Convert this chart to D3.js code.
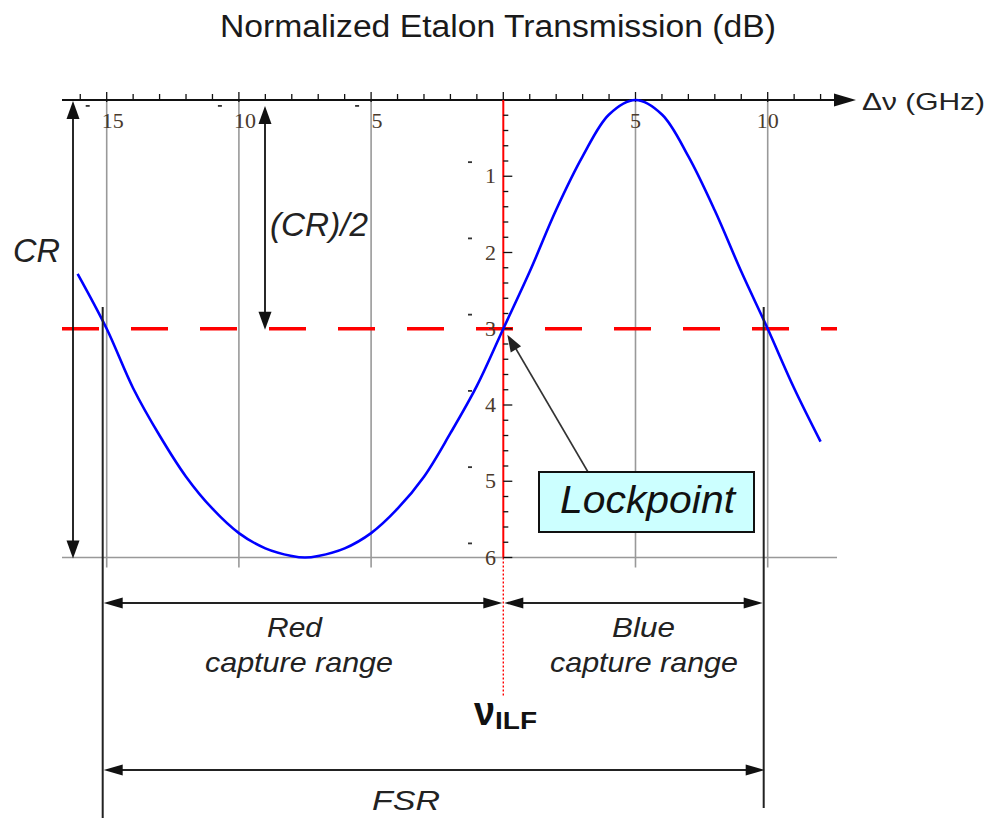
<!DOCTYPE html>
<html>
<head>
<meta charset="utf-8">
<script src="https://cdn.jsdelivr.net/npm/d3@7"></script>
<style>
  html, body { margin: 0; padding: 0; background: #fff; }
  svg { display: block; }
</style>
</head>
<body>
<div id="chart"></div>
<script>
// ---------- DATA ----------
const freqGHz = [-16.1, -15, -14, -13, -12, -11, -10, -9, -8, -7.5, -7, -6, -5, -4, -3, -2, -1, 0,
                 1, 2, 3, 4, 5, 6, 7, 8, 9, 10, 11, 12];
const transDB = [-2.28, -3.0, -3.78, -4.40, -4.94, -5.36, -5.68, -5.88, -5.98, -6.0, -5.98, -5.88, -5.68, -5.36, -4.94, -4.37, -3.75, -3.0,
                 -2.25, -1.44, -0.74, -0.19, 0, -0.19, -0.74, -1.45, -2.25, -3.0, -3.78, -4.48];
const xTickValues = [-15, -10, -5, 5, 10];
const xTickLabels = ["-15", "-10", "-5", "5", "10"];
const yTickValues = [-1, -2, -3, -4, -5, -6];
const yTickLabels = ["-1", "-2", "-3", "-4", "-5", "-6"];
const lockLevel = -3;
const lockFreq = 0;
const redEdge = -15;
const blueEdge = 10;

// ---------- SETUP ----------
const W = 992, H = 818;
const svg = d3.select("#chart").append("svg").attr("width", W).attr("height", H);
const sans = "'Liberation Sans', Arial, sans-serif";
const serif = "'Liberation Serif', 'Times New Roman', serif";

const x = d3.scaleLinear().domain([0, 10]).range([503.3, 767.7]);
const y = d3.scaleLinear().domain([0, -6]).range([100, 557.5]);
const xMin = x.invert(62), xMax = x.invert(837);

function arrowHead(g, tx, ty, angleDeg, len = 17, half = 6, color = "#111") {
  const a = angleDeg * Math.PI / 180;
  const bx = tx - len * Math.cos(a), by = ty - len * Math.sin(a);
  const px = -Math.sin(a) * half, py = Math.cos(a) * half;
  g.append("path")
    .attr("d", `M${tx},${ty}L${bx + px},${by + py}L${bx - px},${by - py}Z`)
    .attr("fill", color);
}

// ---------- TITLE ----------
svg.append("text").attr("x", 220).attr("y", 37)
  .attr("font-family", sans).attr("font-size", 31).attr("fill", "#1a1a1a")
  .attr("textLength", 556).attr("lengthAdjust", "spacingAndGlyphs")
  .text("Normalized Etalon Transmission (dB)");

// ---------- GRID ----------
const grid = svg.append("g");
grid.selectAll("line.vg").data(xTickValues).join("line")
  .attr("x1", d => x(d)).attr("x2", d => x(d))
  .attr("y1", y(0)).attr("y2", y(-6) + 10)
  .attr("stroke", "#999").attr("stroke-width", 1.6);
grid.append("line")
  .attr("x1", x(xMin)).attr("x2", x(xMax))
  .attr("y1", y(-6)).attr("y2", y(-6))
  .attr("stroke", "#999").attr("stroke-width", 1.6);

// ---------- RED DASHED LOCK LEVEL ----------
svg.append("line")
  .attr("x1", x(xMin)).attr("x2", x(xMax))
  .attr("y1", y(lockLevel)).attr("y2", y(lockLevel))
  .attr("stroke", "#ff0000").attr("stroke-width", 3.6)
  .attr("stroke-dasharray", "37,32");

// ---------- X AXIS (top) ----------
const xAxisG = svg.append("g");
xAxisG.append("line").attr("x1", 62).attr("x2", 840)
  .attr("y1", y(0)).attr("y2", y(0)).attr("stroke", "#111").attr("stroke-width", 1.8);
arrowHead(xAxisG, 856, y(0), 0, 22, 6.5);
const xMinor = d3.range(-16, 13, 1);
xAxisG.selectAll("line.xt").data(xMinor).join("line")
  .attr("x1", d => x(d)).attr("x2", d => x(d))
  .attr("y1", d => d % 5 === 0 ? y(0) - 8 : y(0) - 6)
  .attr("y2", d => d % 5 === 0 ? y(0) + 2 : y(0))
  .attr("stroke", "#111").attr("stroke-width", 1.3);

// x tick labels (minus sign rendered displaced, as in the original)
xTickValues.forEach((v, i) => {
  const lab = xTickLabels[i];
  const neg = lab.startsWith("-");
  const digits = neg ? lab.slice(1) : lab;
  const cx = x(v) + (neg ? 6 : 0);
  xAxisG.append("text").attr("x", cx).attr("y", 128)
    .attr("text-anchor", "middle").attr("font-family", serif)
    .attr("font-size", 22).attr("fill", "#4a3a2c").text(digits);
  if (neg) {
    const wDig = digits.length * 10;
    xAxisG.append("rect").attr("x", cx - wDig / 2 - 17).attr("y", 105)
      .attr("width", 4).attr("height", 1.8).attr("fill", "#333");
  }
});

// ---------- Y AXIS (at 0 GHz) ----------
const yAxisG = svg.append("g");
yAxisG.append("line").attr("x1", x(0)).attr("x2", x(0))
  .attr("y1", y(0)).attr("y2", y(-6))
  .attr("stroke", "#ff0000").attr("stroke-width", 2);
yAxisG.append("line").attr("x1", x(0)).attr("x2", x(0))
  .attr("y1", y(-6)).attr("y2", 697)
  .attr("stroke", "#ff0000").attr("stroke-width", 1.4).attr("stroke-dasharray", "2,2");
const yMinor = d3.range(0, 31).map(i => -i * 0.2);
yAxisG.selectAll("line.yt").data(yMinor.slice(1)).join("line")
  .attr("x1", x(0)).attr("x2", (d, i) => (i + 1) % 5 === 0 ? x(0) + 9 : x(0) + 5)
  .attr("y1", d => y(d)).attr("y2", d => y(d))
  .attr("stroke", "#111").attr("stroke-width", 1.3);
yTickValues.forEach((v, i) => {
  const lab = yTickLabels[i];
  const neg = lab.startsWith("-");
  const digits = neg ? lab.slice(1) : lab;
  yAxisG.append("text").attr("x", 496).attr("y", y(v) + 7)
    .attr("text-anchor", "end").attr("font-family", serif)
    .attr("font-size", 22).attr("fill", "#4a3a2c").text(digits);
  if (neg) {
    yAxisG.append("rect").attr("x", 468).attr("y", y(v) - 15)
      .attr("width", 4).attr("height", 1.8).attr("fill", "#333");
  }
});

// axis label
svg.append("text").attr("x", 862).attr("y", 110)
  .attr("font-family", sans).attr("font-size", 24).attr("fill", "#222")
  .attr("textLength", 123).attr("lengthAdjust", "spacingAndGlyphs")
  .text("\u0394\u03BD (GHz)");

// ---------- CURVE ----------
const pts = freqGHz.map((f, i) => [f, transDB[i]]);
svg.append("path").datum(pts)
  .attr("d", d3.line().x(d => x(d[0])).y(d => y(d[1])).curve(d3.curveCatmullRom.alpha(0.5)))
  .attr("fill", "none").attr("stroke", "#0000ff").attr("stroke-width", 2.6);

// ---------- ANNOTATIONS ----------
const ann = svg.append("g");
// CR vertical arrow
const crX = 73;
ann.append("line").attr("x1", crX).attr("x2", crX).attr("y1", y(0) + 10).attr("y2", y(-6) - 10)
  .attr("stroke", "#111").attr("stroke-width", 1.8);
arrowHead(ann, crX, y(0) + 1, -90, 18, 6.5);
arrowHead(ann, crX, y(-6) + 1, 90, 18, 6.5);
ann.append("text").attr("x", 13).attr("y", 262)
  .attr("font-family", sans).attr("font-style", "italic").attr("font-size", 34).attr("fill", "#222")
  .attr("textLength", 47).attr("lengthAdjust", "spacingAndGlyphs").text("CR");

// (CR)/2 arrow
const hcX = 265;
ann.append("line").attr("x1", hcX).attr("x2", hcX).attr("y1", 115).attr("y2", y(lockLevel) - 10)
  .attr("stroke", "#111").attr("stroke-width", 1.8);
arrowHead(ann, hcX, 106, -90, 18, 6.5);
arrowHead(ann, hcX, y(lockLevel) + 1, 90, 18, 6.5);
ann.append("text").attr("x", 270).attr("y", 236)
  .attr("font-family", sans).attr("font-style", "italic").attr("font-size", 34).attr("fill", "#222")
  .attr("textLength", 98).attr("lengthAdjust", "spacingAndGlyphs").text("(CR)/2");

// capture range boundary lines
const leftB = x(redEdge) - 4, rightB = x(blueEdge) - 4;
ann.append("line").attr("x1", leftB).attr("x2", leftB).attr("y1", 307).attr("y2", 818)
  .attr("stroke", "#222").attr("stroke-width", 2);
ann.append("line").attr("x1", rightB).attr("x2", rightB).attr("y1", 307).attr("y2", 808)
  .attr("stroke", "#222").attr("stroke-width", 2);

// horizontal double arrows
function hArrow(x1, x2, yy) {
  ann.append("line").attr("x1", x1 + 8).attr("x2", x2 - 8).attr("y1", yy).attr("y2", yy)
    .attr("stroke", "#222").attr("stroke-width", 2);
  arrowHead(ann, x1, yy, 180, 19, 5.5);
  arrowHead(ann, x2, yy, 0, 19, 5.5);
}
hArrow(leftB + 1, x(lockFreq) - 1, 603);
hArrow(x(lockFreq) + 1, rightB - 1, 603);
hArrow(leftB + 1, rightB + 1, 770);

function lab(txt, x0, yy, len, size) {
  return ann.append("text").attr("x", x0).attr("y", yy)
    .attr("font-family", sans).attr("font-style", "italic").attr("font-size", size).attr("fill", "#222")
    .attr("textLength", len).attr("lengthAdjust", "spacingAndGlyphs").text(txt);
}
lab("Red", 267, 637, 55, 28);
lab("capture range", 205, 672, 188, 28);
lab("Blue", 612, 637, 63, 28);
lab("capture range", 550, 672, 188, 28);
lab("FSR", 372, 810, 68, 28);

// nu_ILF
ann.append("text").attr("x", 474).attr("y", 725)
  .attr("font-family", sans).attr("font-weight", "bold").attr("font-size", 40).attr("fill", "#111")
  .attr("textLength", 21).attr("lengthAdjust", "spacingAndGlyphs").text("\u03BD");
ann.append("text").attr("x", 495).attr("y", 729)
  .attr("font-family", sans).attr("font-weight", "bold").attr("font-size", 24).attr("fill", "#111")
  .attr("textLength", 42).attr("lengthAdjust", "spacingAndGlyphs").text("ILF");

// Lockpoint callout
const lx = x(lockFreq) + 4, ly = y(lockLevel) + 6;
ann.append("line").attr("x1", 588).attr("x2", lx + 8).attr("y1", 472).attr("y2", ly + 13)
  .attr("stroke", "#333").attr("stroke-width", 1.6);
arrowHead(ann, lx, ly, Math.atan2(ly - 472, lx - 588) * 180 / Math.PI, 17, 6, "#222");
ann.append("rect").attr("x", 539).attr("y", 472).attr("width", 215).attr("height", 60)
  .attr("fill", "#ccffff").attr("stroke", "#111").attr("stroke-width", 2);
ann.append("text").attr("x", 560).attr("y", 513)
  .attr("font-family", sans).attr("font-style", "italic").attr("font-size", 38).attr("fill", "#111")
  .attr("textLength", 175).attr("lengthAdjust", "spacingAndGlyphs").text("Lockpoint");
</script>
</body>
</html>
